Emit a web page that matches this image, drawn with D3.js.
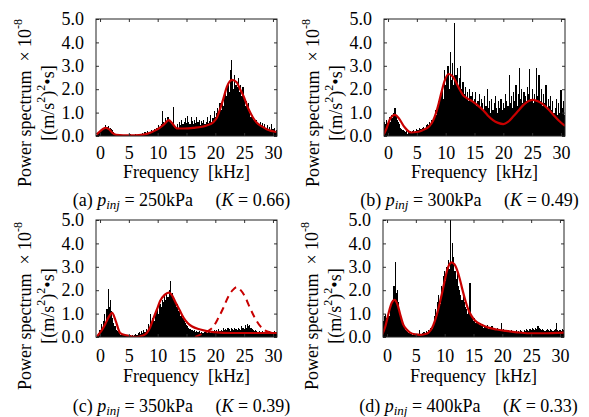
<!DOCTYPE html>
<html><head><meta charset="utf-8">
<script src="https://cdn.jsdelivr.net/npm/d3@7"></script>
<style>
html,body{margin:0;padding:0;background:#fff;}
text{font-family:"Liberation Serif","Times New Roman",serif;fill:#000;}
</style></head>
<body><svg id="c" width="589" height="417"></svg>
<script>
// frequency grid of spectrum bars (kHz)
const freqStart = -0.6, freqStep = 0.2;
const xTicks = [0, 5, 10, 15, 20, 25, 30];
const yTicks = [0, 1, 2, 3, 4, 5];

// spectrum values (x1e-8)
const specA = [0.05,0.1,0.15,
0.2,0.25,0.3,0.35,0.4, 0.45,0.38,0.42,0.3,0.35, 0.3,0.25,0.15,0.1,0.06, 0.05,0.04,0.05,0.03,0.04,
0.03,0.05,0.04,0.03,0.06, 0.04,0.08,0.05,0.03,0.06, 0.05,0.1,0.04,0.08,0.06, 0.1,0.07,0.12,0.08,0.15,
0.12,0.2,0.1,0.18,0.15, 0.25,0.2,0.3,0.22,0.35, 0.3,0.45,0.35,0.5,1.05, 0.6,0.5,0.75,0.55,0.8,
0.7,0.6,0.5,0.45,1.22, 0.4,0.35,0.5,0.3,0.6, 0.45,0.7,0.5,0.6,0.75, 0.55,0.85,0.6,0.5,0.8,
0.65,0.5,0.7,0.55,0.8, 0.6,0.7,0.45,0.65,0.55, 0.7,0.5,0.6,0.8,0.55, 0.65,0.9,0.6,0.75,1.05,
0.8,1.0,1.2,0.9,1.4, 1.1,1.6,1.3,1.8,2.0, 1.7,2.2,1.9,2.8,3.25, 2.4,2.0,2.6,2.2,2.1,
2.5,1.9,2.2,1.7,2.1, 1.6,1.3,1.5,1.2,1.4, 1.0,0.8,0.9,0.7,0.65, 0.6,0.7,0.5,0.45,0.6,
0.4,0.55,0.35,0.5,0.3, 0.45,0.3,0.4,0.25,0.5, 0.3,0.35,0.2,0.25];

const specB = [0.6,0.5,0.7,
0.55,0.8,0.6,0.9,0.75, 1.0,1.2,0.85,0.7,0.6, 0.5,0.35,0.3,0.25,0.2, 0.15,0.2,0.1,0.15,0.2,
0.15,0.2,0.25,0.15,0.2, 0.3,0.25,0.35,0.3,0.3, 0.35,0.4,0.3,0.45,0.5, 0.45,0.6,0.5,0.7,0.65,
0.8,1.1,0.9,1.3,1.5, 1.4,1.8,2.1,1.6,2.8, 2.2,2.6,3.0,2.0,3.6, 2.4,3.1,2.2,4.85,2.6,
2.9,2.1,2.5,3.0,2.0, 2.3,1.8,2.1,1.6,1.9, 1.5,2.0,1.7,1.9,1.4, 1.6,1.9,1.3,1.5,1.8,
1.2,1.6,1.4,1.1,1.7, 1.3,2.0,1.2,1.5,1.0, 1.6,1.1,1.4,1.7,1.2, 1.0,1.5,1.2,1.6,1.1,
1.4,1.2,1.8,1.5,1.3, 2.6,1.4,1.7,1.2,1.9, 1.5,2.2,1.3,1.8,2.9, 1.6,2.0,1.4,1.9,1.7,
1.5,2.1,1.8,2.85,1.6, 2.0,1.4,1.8,1.5,2.9, 1.7,2.6,1.5,2.0,1.3, 1.8,1.4,2.2,1.2,1.6,
1.3,1.7,1.1,1.5,1.0, 1.2,1.6,0.9,1.4,1.0, 1.95,1.2,1.5,0.9];

const specC = [0.0,0.05,0.15,
0.3,0.55,0.4,0.7,1.0, 0.6,1.2,2.05,1.3,1.6, 1.1,0.8,0.6,0.45,0.3, 0.25,0.2,0.15,0.1,0.12,
0.08,0.1,0.06,0.05,0.08, 0.05,0.07,0.04,0.1,0.06, 0.08,0.12,0.1,0.15,0.2, 0.12,0.25,0.18,0.3,0.2,
0.35,0.25,0.55,0.4,1.0, 0.6,0.8,0.7,1.0,1.1, 1.2,1.0,1.4,1.3,1.6, 1.5,1.8,1.6,1.9,1.7,
2.0,2.4,1.8,1.9,1.6, 1.5,1.3,1.4,1.1,1.2, 0.9,1.0,0.8,0.7,0.6, 0.5,0.45,0.4,0.35,0.3,
0.3,0.25,0.3,0.2,0.25, 0.2,0.25,0.15,0.2,0.18, 0.15,0.2,0.25,0.15,0.2, 0.2,0.15,0.25,0.2,0.3,
0.25,0.3,0.2,0.35,0.25, 0.3,0.25,0.4,0.3,0.35, 0.3,0.4,0.35,0.25,0.4, 0.35,0.3,0.4,0.35,0.3,
0.4,0.35,0.3,0.45,0.4, 0.35,0.5,0.4,0.55,0.45, 0.5,0.4,0.35,0.3,0.25, 0.3,0.25,0.2,0.25,0.2,
0.2,0.25,0.15,0.2,0.18, 0.15,0.2,0.25,0.15,0.2, 0.2,0.25,0.15,0.2];

const specD = [0.7,0.9,1.0,
0.8,1.1,0.9,1.3,1.5, 1.6,2.2,3.2,1.9,2.0, 1.5,1.2,0.9,0.7,0.5, 0.4,0.3,0.25,0.2,0.15,
0.12,0.15,0.1,0.12,0.08, 0.1,0.08,0.12,0.3,0.1, 0.12,0.15,0.2,0.15,0.25, 0.2,0.3,0.25,0.4,0.35,
0.6,0.9,1.2,1.0,1.5, 1.8,1.4,2.2,2.0,2.6, 2.8,2.4,3.0,3.3,2.9, 5.0,3.2,4.0,3.4,2.8,
2.5,2.9,2.2,2.0,1.8, 1.6,1.9,1.5,1.3,1.2, 1.0,1.1,2.3,0.9,0.8, 0.7,0.8,0.6,0.65,0.55,
0.5,0.6,0.45,0.55,0.4, 0.45,0.4,0.5,0.35,0.4, 0.35,0.45,0.3,0.4,0.35, 0.3,0.4,0.35,0.3,0.6,
0.3,0.35,0.25,0.3,0.25, 0.3,0.2,0.25,0.3,0.2, 0.25,0.2,0.3,0.2,0.25, 0.2,0.3,0.25,0.2,0.3,
0.25,0.35,0.3,0.25,0.35, 0.3,0.4,0.35,0.3,0.4, 0.35,0.45,0.4,0.35,0.3, 0.35,0.3,0.25,0.3,0.35,
0.3,0.25,0.35,0.3,0.25, 0.3,0.35,0.6,0.3,0.25, 0.3,0.25,0.35,0.3];

// fitted curves [frequency, value]
const fitA = [[-0.6,0.07],[0,0.2],[0.5,0.3],[1.0,0.35],[1.6,0.28],[2.2,0.12],[2.8,0.05],[4,0.03],[6,0.03],[7.5,0.06],[8.7,0.14],[9.6,0.24],[10.4,0.36],[11.2,0.52],[11.9,0.68],[12.5,0.55],[13.3,0.33],[14.5,0.32],[16.2,0.35],[18.5,0.45],[19.7,0.6],[20.3,0.8],[20.8,1.13],[21.4,1.6],[22,2.1],[22.9,2.4],[23.7,2.3],[24.3,2.0],[24.9,1.7],[25.8,1.13],[26.5,0.8],[27.2,0.57],[28,0.42],[29,0.28],[30.6,0.17]];
const fitB = [[-0.8,0.04],[-0.3,0.3],[0.3,0.7],[1.2,0.9],[1.9,0.75],[2.8,0.4],[4,0.15],[5,0.17],[6,0.25],[7.2,0.43],[7.8,0.65],[8.3,0.97],[8.8,1.4],[9.2,1.8],[9.8,2.35],[10.5,2.65],[11.2,2.55],[11.8,2.3],[12.4,2.0],[13,1.75],[13.8,1.6],[14.7,1.47],[15.6,1.3],[16.5,1.1],[17.3,0.88],[18.2,0.68],[19.1,0.56],[20,0.51],[20.8,0.6],[21.7,0.83],[22.6,1.08],[23.5,1.33],[24.4,1.5],[25.2,1.54],[26.1,1.47],[27,1.33],[27.9,1.12],[28.7,0.9],[29.7,0.64],[30.7,0.43]];
const fitC = [[-0.5,0.03],[0.2,0.25],[0.9,0.55],[1.5,0.85],[2.1,1.03],[2.7,0.7],[3.5,0.17],[4.6,0.07],[6.4,0.0],[7.3,0.05],[8.1,0.17],[8.7,0.42],[9.3,0.82],[9.9,1.2],[10.4,1.53],[11.2,1.8],[11.9,1.9],[12.5,1.78],[13,1.53],[13.8,1.15],[14.5,0.82],[15.2,0.6],[15.9,0.46],[17.4,0.32],[19.7,0.21],[23.2,0.17],[30.7,0.17]];
const dashC = [[16.5,0.0],[18,0.17],[19,0.3],[19.7,0.46],[20.5,0.8],[21.4,1.25],[22.2,1.7],[23,2.0],[23.7,2.13],[24.4,2.0],[25.2,1.7],[26,1.25],[26.9,0.8],[27.8,0.46],[28.6,0.28],[29.5,0.2],[30.6,0.15]];
const fitD = [[-0.8,0.11],[-0.3,0.45],[0.3,1.05],[0.8,1.45],[1.3,1.59],[1.8,1.4],[2.3,0.95],[2.8,0.54],[3.4,0.32],[4,0.19],[5,0.11],[5.7,0.09],[6.5,0.12],[7.2,0.19],[7.8,0.38],[8.3,0.69],[8.9,1.2],[9.5,1.83],[10,2.4],[10.4,2.83],[10.8,3.1],[11.2,3.19],[11.7,3.1],[12.1,2.9],[12.6,2.5],[13,2.1],[13.6,1.55],[14.2,1.11],[14.8,0.85],[15.3,0.69],[16.4,0.52],[17.6,0.4],[19,0.32],[20.6,0.26],[22.5,0.2],[24.6,0.16],[27,0.16],[30.7,0.19]];

const panelLetters = ["a","b","c","d"];
const pressures = ["250","300","350","400"];
const kValues = ["0.66","0.49","0.39","0.33"];

const panels = [
  {spec: specA, fit: fitA, dash: null, left: 96, top: 19, capY: 206, tickY: 159, freqY: 178, labY: 103},
  {spec: specB, fit: fitB, dash: null, left: 384, top: 19, capY: 206, tickY: 159, freqY: 178, labY: 103},
  {spec: specC, fit: fitC, dash: dashC, left: 96, top: 220, capY: 412, tickY: 362, freqY: 382, labY: 306},
  {spec: specD, fit: fitD, dash: null, left: 383, top: 220, capY: 412, tickY: 362, freqY: 382, labY: 306}
];
const W = 181, H = 117;
const RED = "#c80000";
const svg = d3.select("#c");

panels.forEach((p, i) => {
  const x = d3.scaleLinear().domain([-0.7, 30.7]).range([p.left, p.left + W]);
  const y = d3.scaleLinear().domain([0, 5]).range([p.top + H, p.top]);
  const g = svg.append("g");
  const cid = "clip" + i;
  g.append("clipPath").attr("id", cid).append("rect")
    .attr("x", p.left).attr("y", p.top).attr("width", W).attr("height", H);
  const bw = x(freqStep) - x(0);
  const pg = g.append("g").attr("clip-path", `url(#${cid})`);
  pg.append("g").attr("shape-rendering","crispEdges")
    .selectAll("rect.bar").data(p.spec).join("rect").attr("class","bar")
    .attr("x", (d, j) => x(freqStart + j * freqStep) - bw / 2)
    .attr("width", bw)
    .attr("y", d => y(d))
    .attr("height", d => y(0) - y(d))
    .attr("fill", "#000");
  const line = d3.line().x(d => x(d[0])).y(d => y(d[1])).curve(d3.curveMonotoneX);
  pg.append("path").attr("d", line(p.fit)).attr("fill","none").attr("stroke",RED).attr("stroke-width",2.2);
  if (p.dash) pg.append("path").attr("d", line(p.dash)).attr("fill","none").attr("stroke",RED)
    .attr("stroke-width",2).attr("stroke-dasharray","7,5");

  // axes (ticks inward on all sides)
  const ax = (gen, tx, ty) => {
    const a = g.append("g").attr("transform", `translate(${tx},${ty})`).call(gen);
    a.select(".domain").remove();
    a.selectAll("line").attr("stroke","#333");
    return a;
  };
  const yl = ax(d3.axisLeft(y).tickValues(yTicks).tickSize(-3).tickPadding(12).tickFormat(d3.format(".1f")), p.left, 0);
  yl.selectAll("text").attr("font-size", 18);
  ax(d3.axisRight(y).tickValues(yTicks).tickSize(-3).tickFormat(""), p.left + W, 0);
  const xb = ax(d3.axisBottom(x).tickValues(xTicks).tickSize(-3).tickFormat(d3.format("d")), 0, p.top + H);
  xb.selectAll("text").attr("font-size", 18)
    .attr("y", null).attr("dy", null)
    .attr("transform", `translate(0,${p.tickY - p.top - H})`);
  ax(d3.axisTop(x).tickValues(xTicks).tickSize(-3).tickFormat(""), 0, p.top);
  g.append("rect").attr("x", p.left).attr("y", p.top).attr("width", W).attr("height", H)
    .attr("fill","none").attr("stroke","#222").attr("stroke-width",1);

  // frequency label
  g.append("text").attr("x", p.left + W / 2).attr("y", p.freqY).attr("text-anchor","middle")
    .attr("font-size", 18).text("Frequency\u00a0\u00a0[kHz]");

  // y label
  const l1 = g.append("text").attr("transform", `translate(${p.left - 71},${p.labY}) rotate(-90)`)
    .attr("text-anchor","middle").attr("dominant-baseline","central").attr("font-size", 18);
  l1.append("tspan").text("Power spectrum\u00a0\u00a0\u00d7\u00a010");
  l1.append("tspan").attr("dy", -7).attr("font-size", 12).text("-8");
  const l2 = g.append("text").attr("transform", `translate(${p.left - 48},${p.labY}) rotate(-90)`)
    .attr("text-anchor","middle").attr("dominant-baseline","central").attr("font-size", 18);
  l2.append("tspan").text("[(m/s");
  l2.append("tspan").attr("dy", -7).attr("font-size", 12).text("2");
  l2.append("tspan").attr("dy", 7).text(")");
  l2.append("tspan").attr("dy", -7).attr("font-size", 12).text("2");
  l2.append("tspan").attr("dy", 7).text("\u2022s]");

  // caption
  const cap = g.append("text").attr("x", p.left + W / 2 - 5).attr("y", p.capY).attr("text-anchor","middle").attr("font-size", 18);
  cap.append("tspan").text(`(${panelLetters[i]})\u00a0`);
  cap.append("tspan").attr("font-style","italic").text("p");
  cap.append("tspan").attr("font-style","italic").attr("font-size", 13).attr("dy", 3).text("inj");
  cap.append("tspan").attr("dy", -3).text(`\u00a0=\u00a0${pressures[i]}kPa\u00a0\u00a0\u00a0\u00a0\u00a0(`);
  cap.append("tspan").attr("font-style","italic").text("K");
  cap.append("tspan").text(`\u00a0=\u00a0${kValues[i]})`);
});
</script></body></html>
